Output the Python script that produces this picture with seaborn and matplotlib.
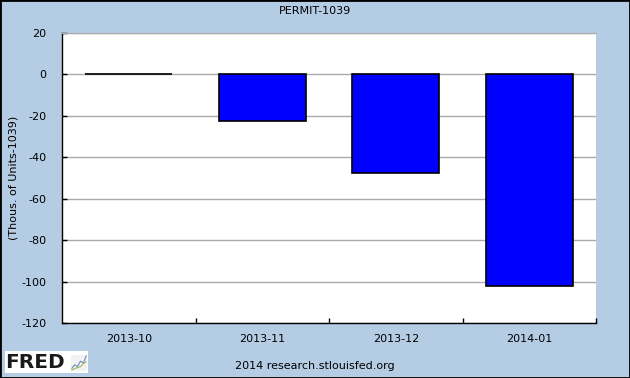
"""
PERMIT-1039 bar chart (FRED style)
"""
import pandas as pd
import matplotlib
matplotlib.use('Agg')
import matplotlib.pyplot as plt
import seaborn as sns
from matplotlib.patches import Rectangle

# --- data ---
months = ['2013-10', '2013-11', '2013-12', '2014-01']
changes = [0.0, -22.3, -47.8, -102.0]
y_ticks = [20, 0, -20, -40, -60, -80, -100, -120]

BG = '#B4CDE5'

sns.set_style("white")
plt.rcParams['font.family'] = ['DejaVu Sans']
plt.rcParams.update({
    'text.color': 'black', 'xtick.color': 'black', 'ytick.color': 'black',
    'axes.labelcolor': 'black',
    'xtick.bottom': True, 'ytick.left': True,
    'xtick.major.size': 3.6, 'ytick.major.size': 3.6,
    'xtick.major.width': 1, 'ytick.major.width': 1,
    'xtick.direction': 'in', 'ytick.direction': 'in',
})

df = pd.DataFrame({'month': months, 'value': changes})

fig = plt.figure(figsize=(6.3, 3.78), dpi=100, facecolor=BG)
ax = fig.add_axes([62/630, 1 - 323/378, 534/630, 290/378])
ax.set_facecolor('white')

sns.barplot(data=df, x='month', y='value', color='#0000FF', edgecolor='black',
            linewidth=1.2, width=0.65, saturation=1, ax=ax, zorder=3)

ax.set_ylim(-120, 20)
ax.set_xlim(-0.5, len(months) - 0.5)
ax.set_yticks(y_ticks)
ax.set_yticklabels([str(t) for t in y_ticks], fontsize=8)
ax.yaxis.grid(True, color='#AAAAAA', linewidth=1, zorder=0)
ax.set_axisbelow(True)

# x ticks sit on the category boundaries, labels in the middle
ax.set_xticks([i + 0.5 for i in range(len(months) - 1)] + [len(months) - 0.5])
ax.set_xticklabels([])
ax.set_xticks(range(len(months)), minor=True)
ax.set_xticklabels(months, minor=True, fontsize=8)
ax.tick_params(axis='x', which='minor', length=0, pad=8)
ax.tick_params(axis='y', which='major', pad=11)

ax.set_xlabel('')
ax.set_ylabel('(Thous. of Units-1039)', fontsize=8, va='center')
ax.yaxis.set_label_coords((14 - 62) / 534, 0.5)

for side in ['left', 'bottom']:
    ax.spines[side].set_color('black')
    ax.spines[side].set_linewidth(1)
ax.spines['top'].set_color('#AAAAAA')
ax.spines['right'].set_visible(False)

fig.text(0.5, 1 - 11/378, 'PERMIT-1039', ha='center', va='center', fontsize=8)
fig.text(0.5, 1 - 366/378, '2014 research.stlouisfed.org', ha='center', va='center', fontsize=8)

# FRED logo
fig.patches.append(Rectangle((5/630, 1 - 373/378), 83/630, 22/378, transform=fig.transFigure,
                             facecolor='white', edgecolor='none', zorder=0))
fig.text(5/630, 1 - 362/378, 'FRED', ha='left', va='center', fontsize=14.5,
         fontweight='heavy', color='#1a1a1a', zorder=5)
ax_logo = fig.add_axes([71/630, 1 - 371/378, 16/630, 16/378], zorder=5)
ax_logo.set_facecolor('#F2F2F2')
ax_logo.plot([0, 1, 2, 3, 4, 5], [1, 2, 1.5, 3, 2.5, 4.5], color='#6C8EBF', lw=0.8)
ax_logo.plot([0, 1, 2, 3, 4, 5], [0.5, 1, 1.2, 1.5, 2.3, 2.8], color='#9BBB59', lw=0.8)
ax_logo.set_xticks([])
ax_logo.set_yticks([])
for s in ax_logo.spines.values():
    s.set_visible(False)

# figure border
fig.patches.append(Rectangle((0, 0), 1, 1, transform=fig.transFigure, fill=False,
                             edgecolor='black', linewidth=2, zorder=10))

plt.savefig('out.png', dpi=100, facecolor=BG)
